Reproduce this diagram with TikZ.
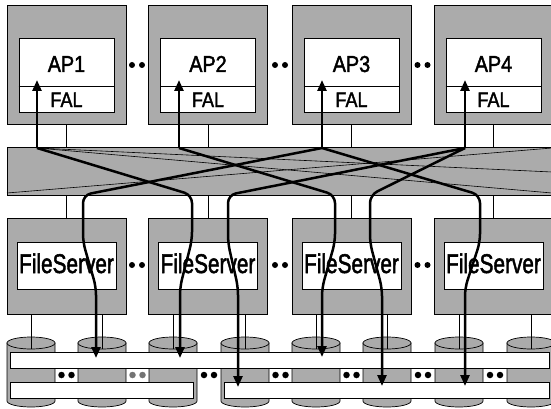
\documentclass[tikz,border=0pt]{standalone}
\usepackage{fontspec}
\setmainfont[FakeBold=2]{Liberation Sans}
\usetikzlibrary{arrows.meta}
\begin{document}
\begin{tikzpicture}[x=1pt,y=-1pt,
  halftone/.style={fill=black!33},
  outerbox/.style={draw, halftone, line width=0.7pt, rectangle, inner sep=0pt},
  innerbox/.style={draw, fill=white, line width=0.7pt, rectangle, inner sep=0pt},
  band/.style={draw, fill=white, line width=0.7pt},
  link/.style={line width=0.7pt},
  xlink/.style={line width=0.6pt},
  flow/.style={line width=2.5pt, rounded corners=8pt, -{Triangle[length=11pt,width=9pt]}},
  flowup/.style={line width=2.5pt, -{Triangle[length=11pt,width=9pt]}},
  aplabel/.style={anchor=base, inner sep=0pt, font=\fontsize{23}{23}\selectfont},
  fallabel/.style={anchor=base, inner sep=0pt, font=\fontsize{21}{21}\selectfont},
  fslabel/.style={anchor=base, inner sep=0pt, font=\fontsize{27}{27}\selectfont},
  dot/.style={circle, fill=black, inner sep=0pt, minimum size=6pt}
]
\useasboundingbox (0,0) rectangle (551,409);

% ---------- application processors ----------
\foreach \n/\cx in {1/66.5, 2/208, 3/351.5, 4/493.5} {
  \node[outerbox, minimum width=119pt, minimum height=119pt] (ap\n) at (\cx,64.5) {};
  \node[innerbox, minimum width=95pt, minimum height=74pt] (api\n) at (\cx,75) {};
  \draw[link] (api\n.west |- 0,86) -- (api\n.east |- 0,86);
  \node[aplabel] (apt\n) at (\cx,72) {\scalebox{0.86}[1]{AP\n}};
  \node[fallabel] (fal\n) at (\cx,107) {\scalebox{0.86}[1]{FAL}};
}

% ---------- switch ----------
\node[outerbox, minimum width=546pt, minimum height=48pt] (sw) at (280,171) {};

% ---------- file servers ----------
\foreach \n/\cx in {1/66.5, 2/208, 3/351.5, 4/493.5} {
  \node[outerbox, minimum width=119pt, minimum height=96pt] (fs\n) at (\cx,266) {};
  \node[innerbox, minimum width=99pt, minimum height=47pt] (fsi\n) at (\cx,265.5) {};
  \node[fslabel] (fst\n) at (\cx,273) {\scalebox{0.77}[1]{FileServer}};
}

% ---------- ellipsis dots between boxes ----------
\foreach \k/\cx in {1/137, 2/280, 3/422.5} {
  \node[dot] (tda\k) at (\cx-5,65) {};
  \node[dot] (tdb\k) at (\cx+5,65) {};
  \node[dot] (mda\k) at (\cx-5,265) {};
  \node[dot] (mdb\k) at (\cx+5,265) {};
}

% ---------- links AP -- switch -- file server ----------
\foreach \n in {1,...,4} {
  \draw[link] (ap\n.south) -- (ap\n.south |- sw.north);
  \draw[link] (fs\n.north) -- (fs\n.north |- sw.south);
}

% ---------- disks ----------
\foreach \d/\cx in {1/31, 2/102, 3/173, 4/245, 5/316, 6/387, 7/459, 8/531} {
  \coordinate (dk\d) at (\cx,343);
  \filldraw[halftone, draw=black, line width=0.7pt]
    (\cx-24,343) -- (\cx-24,401) arc[start angle=180, end angle=360, x radius=24pt, y radius=6pt]
    -- (\cx+24,343) -- cycle;
  \filldraw[halftone, draw=black, line width=0.7pt] (dk\d) ellipse[x radius=24pt, y radius=6pt];
}
\foreach \n/\da/\db in {1/1/2, 2/3/4, 3/5/6, 4/7/8} {
  \draw[link] (fs\n.south -| dk\da) -- ([yshift=-6pt]dk\da);
  \draw[link] (fs\n.south -| dk\db) -- ([yshift=-6pt]dk\db);
}

% ---------- striped files across the disks ----------
\node[band, minimum width=539pt, minimum height=16pt, inner sep=0pt] (st1) at (279.5,360) {};
\node[band, minimum width=183pt, minimum height=16pt, inner sep=0pt] (st2) at (101.5,390) {};
\node[band, minimum width=325pt, minimum height=16pt, inner sep=0pt] (st3) at (386.5,390) {};
\foreach \g/\cx/\c in {1/66.5/black, 2/137.5/black!55, 3/209/black, 4/280.5/black, 5/351.5/black, 6/423/black, 7/495/black} {
  \node[dot, fill=\c, minimum size=6.5pt] (gda\g) at (\cx-5,375) {};
  \node[dot, fill=\c, minimum size=6.5pt] (gdb\g) at (\cx+5,375) {};
}

% ---------- paths through the switch ----------
\coordinate (b1) at (37,148);
\coordinate (b2) at (179,148);
\coordinate (b3) at (322,148);
\coordinate (b4) at (465,148);
\coordinate (sbl) at (7,193);
\coordinate (str) at (552,148);
\coordinate (sr1) at (552,172);
\coordinate (sr2) at (552,193);

\draw[xlink] (b1) -- (sr1);
\draw[xlink] (b1) -- (sr2);
\draw[xlink] (sbl) -- (str);

% upward deliveries to the applications
\foreach \n in {1,...,4} {
  \draw[flowup] (b\n) -- (b\n |- 0,80);
}

% downward requests to the disks
\draw[flow] (b3) -- (83,195) -- (83,242) -- (96,287) -- (96,358);
\draw[flow] (b1) -- (192,195) -- (192,240) -- (180,287) -- (180,358);
\draw[flow] (b4) -- (228,195) -- (228,243) -- (238,287) -- (238,387);
\draw[flow] (b2) -- (335,195) -- (335,242) -- (322,288) -- (322,357);
\draw[flow] (b4) -- (370,195) -- (370,243) -- (382,288) -- (382,386);
\draw[flow] (b3) -- (480,195) -- (480,242) -- (465,288) -- (465,386);
\end{tikzpicture}
\end{document}
